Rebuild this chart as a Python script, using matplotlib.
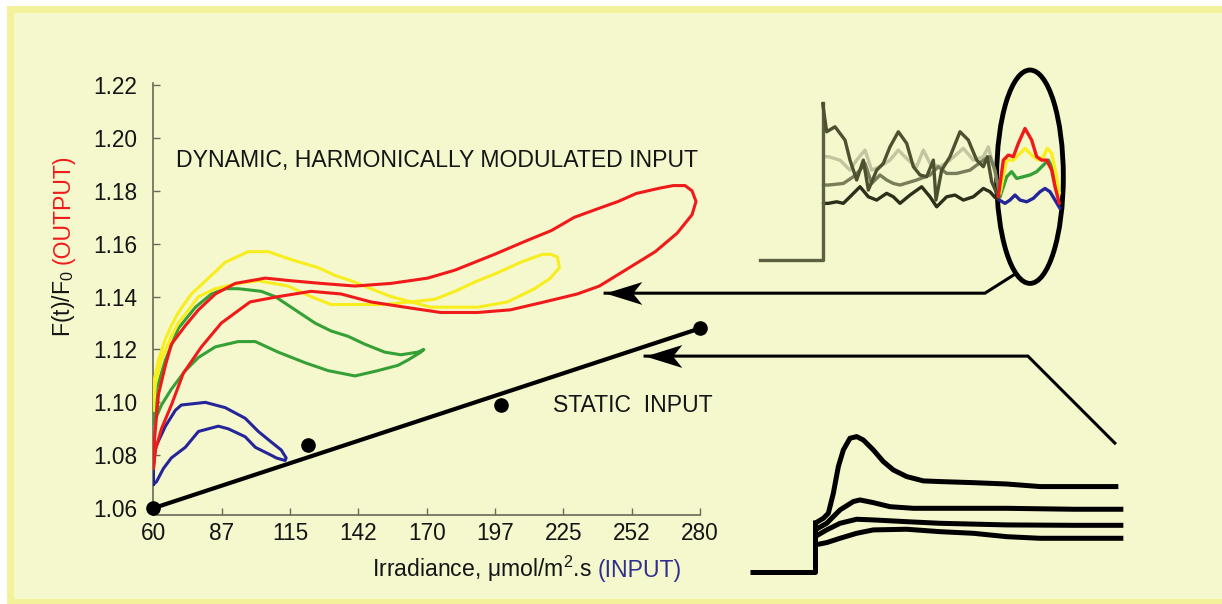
import matplotlib
matplotlib.use('Agg')
import matplotlib.pyplot as plt
from matplotlib.patches import Ellipse, Rectangle
from matplotlib.path import Path

plt.rcParams['font.family'] = ['Liberation Sans', 'DejaVu Sans']
plt.rcParams['mathtext.fontset'] = 'custom'
plt.rcParams['mathtext.rm'] = 'Liberation Sans'
plt.rcParams['mathtext.it'] = 'Liberation Sans:italic'
plt.rcParams['mathtext.bf'] = 'Liberation Sans:bold'

# ---------------- data ----------------
x_ticks = [60, 87.5, 115, 142.5, 170, 197.5, 225, 252.5, 280]
x_tick_labels = ['60', '87', '115', '142', '170', '197', '225', '252', '280']
y_ticks = [1.06, 1.08, 1.10, 1.12, 1.14, 1.16, 1.18, 1.20, 1.22]
y_tick_labels = ['1.06', '1.08', '1.10', '1.12', '1.14', '1.16', '1.18', '1.20', '1.22']

# static input response (line + measured points)
static_x = [60, 280]
static_y = [1.060, 1.128]
static_pts_x = [60, 122, 200, 280]
static_pts_y = [1.060, 1.084, 1.099, 1.128]

# dynamic loops (irradiance, F(t)/F0)
blue_x = [60, 60, 60.8, 64.8, 68.8, 71.2, 80.9, 88.9, 96.9, 102.2, 107.4, 111.4, 113.4,
          113.0, 109.4, 107.4, 101.0, 96.9, 90.1, 86.1, 78.1, 72.8, 67.2, 64.0, 61.2, 60]
blue_y = [1.069, 1.077, 1.083, 1.091, 1.097, 1.099, 1.100, 1.098, 1.094, 1.089, 1.085, 1.082, 1.079,
          1.078, 1.079, 1.080, 1.083, 1.087, 1.090, 1.091, 1.089, 1.083, 1.079, 1.075, 1.070, 1.069]

green_x = [60, 61.2, 64.8, 70.0, 76.9, 83.3, 88.9, 94.1, 103.4, 109.0, 117.0, 125.0, 131.5, 138.3,
           145.1, 153.1, 159.6, 166.4, 168.8, 167.6, 162.4, 158.4, 150.3, 141.1, 130.3, 121.0,
           110.2, 101.0, 94.1, 84.9, 78.1, 72.8, 67.2, 63.2, 60]
green_y = [1.092, 1.105, 1.116, 1.128, 1.136, 1.141, 1.143, 1.143, 1.142, 1.140, 1.135, 1.130, 1.127,
           1.125, 1.122, 1.119, 1.118, 1.119, 1.120, 1.119, 1.116, 1.114, 1.112, 1.110, 1.112, 1.115,
           1.119, 1.123, 1.123, 1.121, 1.117, 1.112, 1.105, 1.099, 1.092]

yellow_x = [60, 60, 62.0, 64.8, 67.2, 70.0, 75.3, 82.1, 88.9, 98.1, 106.2, 115.4, 126.2, 133.1,
            139.5, 147.5, 155.6, 163.6, 171.6, 183.7, 190.5, 202.5, 213.4, 219.8, 223.4, 222.6,
            219.8, 216.6, 207.8, 198.5, 190.5, 181.3, 173.2, 163.6, 153.1, 142.3, 131.5, 123.4,
            114.2, 102.2, 94.1, 84.9, 78.1, 74.1, 70.0, 67.2, 63.2, 60.8, 60]
yellow_y = [1.097, 1.107, 1.116, 1.124, 1.129, 1.134, 1.141, 1.147, 1.153, 1.157, 1.157, 1.154, 1.151,
            1.148, 1.146, 1.143, 1.140, 1.138, 1.136, 1.136, 1.136, 1.138, 1.143, 1.147, 1.151, 1.155,
            1.156, 1.156, 1.153, 1.149, 1.146, 1.142, 1.139, 1.138, 1.137, 1.137, 1.137, 1.140,
            1.144, 1.146, 1.145, 1.143, 1.140, 1.135, 1.130, 1.125, 1.116, 1.107, 1.098]

red_x = [60.0, 60.4, 62.0, 64.8, 67.2, 72.8, 78.1, 84.9, 92.9, 105.0, 115.4, 127.5, 141.1, 155.6,
         170.4, 181.3, 197.3, 209.8, 220.2, 229.4, 241.1, 247.1, 254.3, 263.6, 269.2, 274.0, 276.8,
         278.4, 276.8, 270.8, 262.0, 249.9, 239.5, 230.6, 217.4, 203.7, 190.5, 175.6, 161.2, 147.5,
         135.5, 123.4, 110.2, 98.9, 87.3, 79.3, 72.0, 67.2, 63.2, 60.8, 60.0]
red_y = [1.075, 1.086, 1.103, 1.114, 1.122, 1.129, 1.135, 1.141, 1.145, 1.147, 1.146, 1.145, 1.144,
         1.145, 1.147, 1.150, 1.156, 1.161, 1.165, 1.170, 1.174, 1.176, 1.179, 1.181, 1.182, 1.182,
         1.180, 1.176, 1.171, 1.164, 1.157, 1.150, 1.144, 1.141, 1.138, 1.135, 1.134, 1.134, 1.136,
         1.138, 1.141, 1.142, 1.140, 1.138, 1.130, 1.121, 1.111, 1.099, 1.090, 1.082, 1.075]

# upper inset: harmonically modulated traces (time, normalised signal)
dyn_base_t = [3.0, 21.8, 21.8]
dyn_base_f = [0.0, 0.0, 1.0]
dyn_a_t = [21.8, 23.0, 25.5, 28.5, 30.0, 32.0, 34.0, 35.5, 38.0, 40.0, 42.0, 44.5, 47.0, 49.0,
           51.0, 53.0, 55.0, 55.8, 57.5, 60.0, 63.0, 65.5, 68.0, 70.0, 71.2, 72.5, 74.5]
dyn_a_f = [1.0, 0.819, 0.851, 0.766, 0.638, 0.511, 0.638, 0.447, 0.574, 0.617, 0.723, 0.819, 0.745,
           0.596, 0.543, 0.532, 0.638, 0.383, 0.574, 0.660, 0.819, 0.766, 0.638, 0.596, 0.660, 0.500,
           0.404]
dyn_b_t = [22.0, 23.5, 27.0, 30.0, 32.0, 34.5, 36.5, 39.0, 42.0, 44.5, 47.5, 50.0, 52.0, 54.0,
           57.0, 60.0, 64.0, 67.0, 70.0, 71.5, 73.0, 75.0]
dyn_b_f = [0.660, 0.660, 0.638, 0.574, 0.638, 0.702, 0.574, 0.596, 0.638, 0.702, 0.638, 0.596,
           0.702, 0.617, 0.596, 0.638, 0.713, 0.638, 0.660, 0.723, 0.600, 0.426]
dyn_c_t = [22.0, 23.5, 28.0, 31.0, 33.0, 34.5, 36.5, 39.0, 41.0, 43.0, 45.0, 50.0, 54.0, 56.5,
           59.0, 62.0, 66.0, 70.0, 72.0, 73.5, 75.0]
dyn_c_f = [0.479, 0.479, 0.489, 0.532, 0.574, 0.617, 0.489, 0.543, 0.511, 0.489, 0.479, 0.511,
           0.543, 0.596, 0.553, 0.553, 0.574, 0.638, 0.660, 0.574, 0.404]
dyn_d_t = [22.0, 23.5, 26.0, 28.0, 30.0, 33.0, 35.5, 38.0, 41.0, 43.0, 45.0, 48.0, 51.5, 54.0,
           56.0, 59.0, 61.5, 64.0, 67.0, 70.0, 72.0, 73.5, 74.8]
dyn_d_f = [0.362, 0.362, 0.372, 0.362, 0.404, 0.468, 0.404, 0.383, 0.426, 0.404, 0.362, 0.415,
           0.468, 0.404, 0.340, 0.404, 0.415, 0.383, 0.404, 0.457, 0.436, 0.400, 0.383]
cyc_red_t = [74.5, 76.0, 77.5, 79.0, 80.5, 82.5, 84.5, 86.0, 87.5, 89.0, 90.5, 91.5, 92.8]
cyc_red_f = [0.404, 0.638, 0.670, 0.660, 0.745, 0.840, 0.766, 0.660, 0.638, 0.638, 0.574, 0.468, 0.362]
cyc_yel_t = [75.0, 77.0, 79.0, 81.0, 82.5, 84.5, 86.5, 88.0, 89.2, 90.5, 91.8, 92.8]
cyc_yel_f = [0.426, 0.638, 0.638, 0.681, 0.713, 0.670, 0.638, 0.660, 0.713, 0.681, 0.553, 0.426]
cyc_grn_t = [75.0, 77.0, 78.5, 80.0, 82.0, 84.0, 86.0, 88.0, 89.5, 91.0, 92.5]
cyc_grn_f = [0.404, 0.532, 0.564, 0.521, 0.532, 0.543, 0.564, 0.606, 0.638, 0.574, 0.426]
cyc_blu_t = [74.8, 76.5, 78.0, 79.5, 81.0, 83.0, 85.0, 87.0, 88.5, 90.0, 91.5, 93.0]
cyc_blu_f = [0.383, 0.362, 0.383, 0.415, 0.383, 0.372, 0.394, 0.436, 0.457, 0.436, 0.383, 0.330]

# lower inset: step (static) responses
stat_base_t = [3.0, 22.5, 22.5]
stat_base_f = [0.0, 0.0, 0.383]
stat_1_t = [22.5, 25.0, 26.5, 28.0, 29.5, 31.0, 33.0, 35.0, 37.0, 40.0, 43.0, 46.0, 50.0, 55.0,
            60.0, 70.0, 80.0, 90.0, 100.0, 113.5]
stat_1_f = [0.358, 0.395, 0.432, 0.580, 0.778, 0.901, 0.988, 1.000, 0.975, 0.901, 0.815, 0.753,
            0.704, 0.672, 0.667, 0.659, 0.649, 0.630, 0.630, 0.630]
stat_2_t = [22.5, 26.0, 30.0, 34.0, 36.0, 40.0, 45.0, 52.0, 60.0, 80.0, 100.0, 115.0]
stat_2_f = [0.309, 0.358, 0.457, 0.519, 0.531, 0.511, 0.481, 0.469, 0.469, 0.469, 0.462, 0.462]
stat_3_t = [22.5, 26.0, 30.0, 35.0, 40.0, 50.0, 60.0, 80.0, 100.0, 115.0]
stat_3_f = [0.259, 0.309, 0.358, 0.388, 0.383, 0.370, 0.358, 0.346, 0.343, 0.343]
stat_4_t = [22.5, 26.0, 30.0, 35.0, 40.0, 50.0, 60.0, 70.0, 80.0, 90.0, 100.0, 115.0]
stat_4_f = [0.198, 0.215, 0.247, 0.284, 0.309, 0.314, 0.296, 0.284, 0.259, 0.247, 0.247, 0.247]

# ---------------- styling ----------------
BG = '#F5F7CD'
FRAME = '#F3F199'
RED = '#F01A1A'
YEL = '#F8EE1E'
GRN = '#35A035'
BLU = '#25259A'
NAVY = '#2E2E8C'
SPINE = '#6A6A58'
TXT = '#151515'
FS = 16.6

W, H, DPI = 1222, 604, 100
fig = plt.figure(figsize=(W / DPI, H / DPI), dpi=DPI, facecolor='white')


def fx(px):
    return px / W


def fy(py):
    return 1 - py / H


fig.add_artist(Rectangle((fx(10), fy(602)), fx(1240) - fx(10), fy(8.5) - fy(602),
                         transform=fig.transFigure, facecolor=BG, edgecolor=FRAME,
                         lw=5, zorder=0))

# ---------------- main axes ----------------
ax = fig.add_axes([fx(153), fy(515), fx(700) - fx(153), fy(83) - fy(515)])
ax.set_facecolor('none')
ax.set_xlim(59.8, 280)
ax.set_ylim(1.0574, 1.2208)
for s in ['top', 'right']:
    ax.spines[s].set_visible(False)
for s in ['left', 'bottom']:
    ax.spines[s].set_color(SPINE)
    ax.spines[s].set_linewidth(1.2)
ax.set_xticks(x_ticks)
ax.set_xticklabels(x_tick_labels)
ax.set_yticks(y_ticks)
ax.set_yticklabels(y_tick_labels)
ax.tick_params(direction='in', length=5, width=1, color=SPINE, labelsize=16.3,
               labelcolor=TXT)
ax.tick_params(axis='y', pad=11.5)
ax.tick_params(axis='x', pad=5)

lw_loop = 2.2
ax.plot(green_x, green_y, color=GRN, lw=lw_loop, zorder=3)
ax.plot(yellow_x, yellow_y, color=YEL, lw=lw_loop, zorder=3)
ax.plot(red_x, red_y, color=RED, lw=lw_loop, zorder=4)
ax.plot(blue_x, blue_y, color=BLU, lw=lw_loop, zorder=3)

ax.plot(static_x, static_y, color='black', lw=3, clip_on=False, zorder=5,
        solid_capstyle='round')
ax.plot(static_pts_x, static_pts_y, 'o', color='black', ms=9.5, clip_on=False, zorder=6)

ax.text(69.1, 1.1889, 'DYNAMIC, HARMONICALLY MODULATED INPUT', fontsize=FS,
        ha='left', va='baseline', color=TXT)
ax.text(220.8, 1.0963, 'STATIC  INPUT', fontsize=FS, ha='left', va='baseline', color=TXT)

# arrows (positions in main-axes data units, extended past the axes)
head = Path([(0, 0), (1, 0.31), (0.75, 0), (1, -0.31), (0, 0)],
            [Path.MOVETO, Path.LINETO, Path.LINETO, Path.LINETO, Path.CLOSEPOLY])
arrow_paths = [
    ([406.8, 394.7, 241.8], [1.1485, 1.1413, 1.1413]),
    ([447.0, 412.0, 257.9], [1.0846, 1.1175, 1.1175]),
]
for xs, ys in arrow_paths:
    ax.plot(xs, ys, color='black', lw=2.2, clip_on=False, zorder=5,
            solid_joinstyle='miter')
    ax.plot([xs[-1]], [ys[-1]], marker=head, ms=53, mfc='black', mec='black',
            mew=0, clip_on=False, zorder=6, linestyle='none')

# ---------------- upper inset ----------------
ax1 = fig.add_axes([fx(750), fy(290), fx(1090) - fx(750), fy(60) - fy(290)])
ax1.axis('off')
ax1.set_xlim(0, 102)
ax1.set_ylim(-0.191, 1.277)
lw_in = 2.4
kw = dict(lw=lw_in, solid_joinstyle='round', solid_capstyle='round')
ax1.plot(dyn_b_t, dyn_b_f, color='#C2C5A0', **kw)
ax1.plot(dyn_c_t, dyn_c_f, color='#7A7D5A', **kw)
ax1.plot(dyn_d_t, dyn_d_f, color='#2C2F19', **kw)
ax1.plot(dyn_base_t, dyn_base_f, color='#5E6140', lw=lw_in)
ax1.plot(dyn_a_t, dyn_a_f, color='#4E5130', **kw)
ax1.plot(cyc_blu_t, cyc_blu_f, color=BLU, **kw)
ax1.plot(cyc_grn_t, cyc_grn_f, color=GRN, **kw)
ax1.plot(cyc_yel_t, cyc_yel_f, color=YEL, **kw)
ax1.plot(cyc_red_t, cyc_red_f, color=RED, **kw)
ax1.add_patch(Ellipse((84, 0.532), 20, 1.362, fill=False, edgecolor='black', lw=3.5,
                      clip_on=False))

# ---------------- lower inset ----------------
ax2 = fig.add_axes([fx(740), fy(590), fx(1140) - fx(740), fy(420) - fy(590)])
ax2.axis('off')
ax2.set_xlim(0, 120)
ax2.set_ylim(-0.136, 1.123)
lw_st = 3.6
for t, f in [(stat_base_t, stat_base_f), (stat_1_t, stat_1_f), (stat_2_t, stat_2_f),
             (stat_3_t, stat_3_f), (stat_4_t, stat_4_f)]:
    ax2.plot(t, f, color='black', lw=lw_st, solid_capstyle='butt', solid_joinstyle='round')

# ---------------- axis labels (multi-coloured) ----------------
fig.canvas.draw()
r = fig.canvas.get_renderer()

t1 = fig.text(fx(371.5), fy(577), 'Irradiance, μmol/$\\mathregular{m^2}$.s', fontsize=FS,
              color=TXT, ha='left', va='baseline')
bb = t1.get_window_extent(r)
fig.text(bb.x1 / W + fx(6), fy(577), '(INPUT)', fontsize=FS, color=NAVY,
         ha='left', va='baseline')

t3 = fig.text(fx(70), fy(337), 'F(t)/$\\mathregular{F_0}$', fontsize=FS, color=TXT,
              rotation=90, rotation_mode='anchor', ha='left', va='baseline')
bb3 = t3.get_window_extent(r)
fig.text(fx(70), bb3.y1 / H + 6 / H, '(OUTPUT)', fontsize=FS, color=RED,
         rotation=90, rotation_mode='anchor', ha='left', va='baseline')

fig.savefig('out.png', dpi=DPI, facecolor='white')
